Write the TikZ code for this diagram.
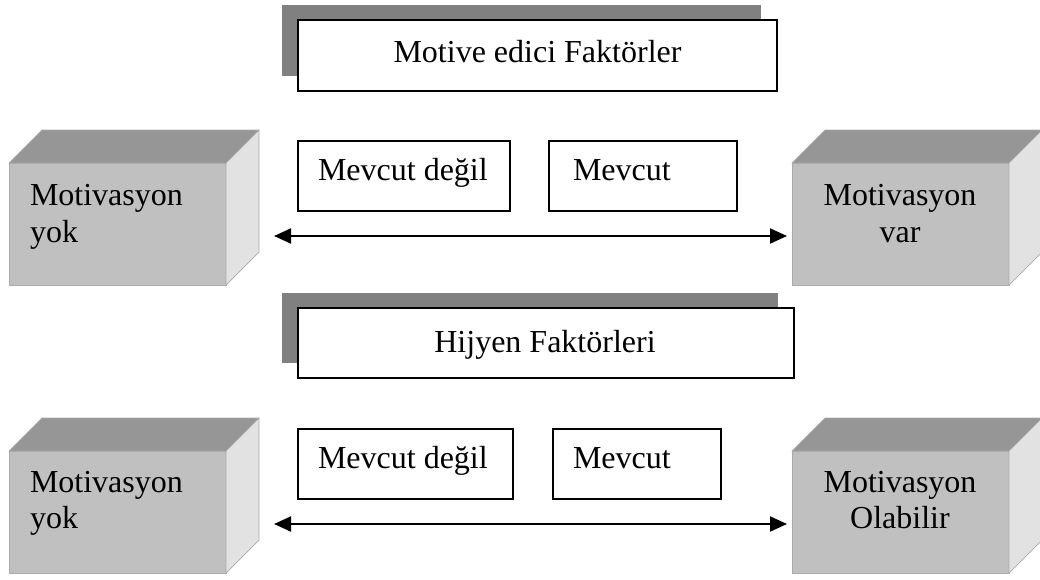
\documentclass[tikz,border=0pt]{standalone}
\usepackage{fontspec}
\setmainfont{Liberation Serif}
\usetikzlibrary{arrows.meta,shadows}
\definecolor{frontc}{HTML}{C0C0C0}
\definecolor{topc}{HTML}{969696}
\definecolor{sidec}{HTML}{E2E2E2}
\definecolor{edgec}{HTML}{ABABAB}
\definecolor{shadowc}{HTML}{808080}
\tikzset{
  front/.style={draw=edgec, line width=0.7pt, fill=frontc, inner sep=0pt, outer sep=0pt,
    minimum width=217pt, minimum height=122pt, anchor=north west},
  topface/.style={draw=edgec, line width=0.7pt, fill=topc},
  sideface/.style={draw=edgec, line width=0.7pt, fill=sidec},
  titlebox/.style={draw=black, line width=2.2pt, fill=white, inner sep=0pt, outer sep=0pt,
    anchor=north west, drop shadow={shadow xshift=-16pt, shadow yshift=15pt, fill=shadowc, opacity=1}},
  smallbox/.style={draw=black, line width=1.8pt, fill=white, inner sep=0pt, outer sep=0pt,
    minimum height=70pt, anchor=north west},
  lbl/.style={inner sep=0pt, outer sep=0pt, font=\fontsize{32}{36}\selectfont},
  arr/.style={line width=2pt, {Triangle[length=17pt,width=15pt]}-{Triangle[length=17pt,width=15pt]}}
}
\newcommand{\cubeparts}[1]{%
  \draw[topface] (#1.north west) -- ++(33,-33) -- ++(217,0) -- (#1.north east) -- cycle;
  \draw[sideface] (#1.north east) -- ++(33,-33) -- ++(0,122) -- (#1.south east) -- cycle;
}
\begin{document}
\begin{tikzpicture}[x=1pt,y=-1pt]
\useasboundingbox (0,0) rectangle (1040,579);

% title boxes
\node[titlebox, minimum width=479pt, minimum height=71pt] (t1) at (298,20) {};
\node[lbl, anchor=base] (t1l) at (537.5,62) {Motive edici Faktörler};
\node[titlebox, minimum width=496pt, minimum height=70pt] (t2) at (298,308) {};
\node[lbl, anchor=base] (t2l) at (545,352) {Hijyen Faktörleri};

% cubes
\node[front] (c1) at (9,163) {};
\cubeparts{c1}
\node[front] (c2) at (792,163) {};
\cubeparts{c2}
\node[front] (c3) at (9,451) {};
\cubeparts{c3}
\node[front] (c4) at (792,451) {};
\cubeparts{c4}

\node[lbl, anchor=base west] (c1a) at (30,205) {Motivasyon};
\node[lbl, anchor=base west] (c1b) at (30,242) {yok};
\node[lbl, anchor=base] (c2a) at (900,205) {Motivasyon};
\node[lbl, anchor=base] (c2b) at (900,242) {var};
\node[lbl, anchor=base west] (c3a) at (30,492) {Motivasyon};
\node[lbl, anchor=base west] (c3b) at (30,528) {yok};
\node[lbl, anchor=base] (c4a) at (900,492) {Motivasyon};
\node[lbl, anchor=base] (c4b) at (900,528) {Olabilir};

% small boxes
\node[smallbox, minimum width=212pt] (b1) at (298,141) {};
\node[lbl, anchor=base west] (b1l) at (318,180) {Mevcut değil};
\node[smallbox, minimum width=188pt] (b2) at (549,141) {};
\node[lbl, anchor=base west] (b2l) at (573,180) {Mevcut};
\node[smallbox, minimum width=215pt] (b3) at (298,429) {};
\node[lbl, anchor=base west] (b3l) at (318,468) {Mevcut değil};
\node[smallbox, minimum width=168pt] (b4) at (553,429) {};
\node[lbl, anchor=base west] (b4l) at (573,468) {Mevcut};

% arrows
\draw[arr, shorten <=48pt, shorten >=5pt] ([yshift=-12pt]c1.east) -- ([yshift=-12pt]c2.west);
\draw[arr, shorten <=48pt, shorten >=5pt] ([yshift=-12pt]c3.east) -- ([yshift=-12pt]c4.west);
\end{tikzpicture}
\end{document}
